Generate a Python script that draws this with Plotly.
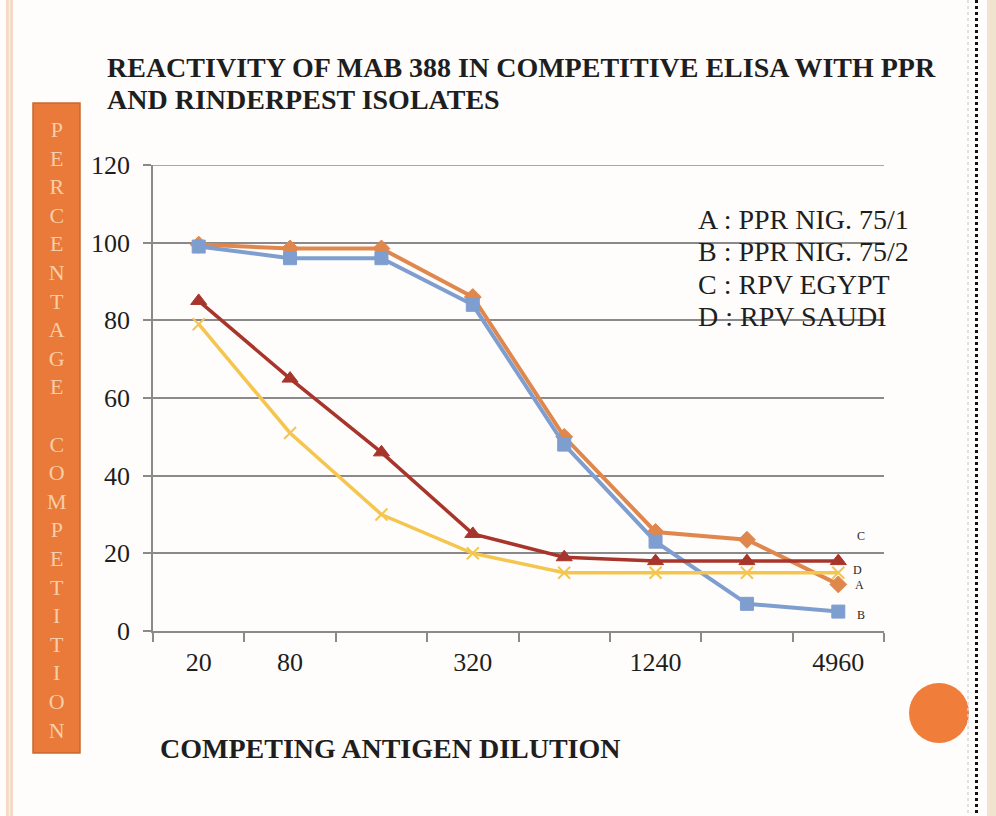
import plotly.graph_objects as go

# ---- data -------------------------------------------------------------
dilutions = ["20", "80", "160", "320", "640", "1240", "2480", "4960"]
tick_labels = ["20", "80", "", "320", "", "1240", "", "4960"]

ppr_nig_75_1 = [99.5, 98.5, 98.5, 86, 50, 25.5, 23.5, 12]   # A
ppr_nig_75_2 = [99, 96, 96, 84, 48, 23, 7, 5]               # B
rpv_egypt = [85, 65, 46, 25, 19, 18, 18, 18]                # C
rpv_saudi = [79, 51, 30, 20, 15, 15, 15, 15]                # D

series_letters = ["A", "B", "C", "D"]
series_names = ["PPR NIG. 75/1", "PPR NIG. 75/2", "RPV EGYPT", "RPV SAUDI"]
series_values = [ppr_nig_75_1, ppr_nig_75_2, rpv_egypt, rpv_saudi]

y_ticks = [0, 20, 40, 60, 80, 100, 120]

title_lines = ["REACTIVITY OF MAB 388 IN COMPETITIVE ELISA WITH PPR",
               "AND RINDERPEST ISOLATES"]
x_title = "COMPETING ANTIGEN DILUTION"
y_title = "PERCENTAGE COMPETITION"

# ---- layout geometry (pixels) -----------------------------------------
FIG_W, FIG_H = 996, 816
L, R, T, B = 153, 112, 165, 185
PW, PH = FIG_W - L - R, FIG_H - T - B


def px_x(p):
    return (p - L) / PW


def px_y(p):
    return (FIG_H - B - p) / PH


SERIF = "Liberation Serif, Times New Roman, serif"
TEXT = "#1e1e1e"
GRID = "#8a8a8a"

styles = [
    dict(color="#E0874E", symbol="diamond", size=13, width=4),
    dict(color="#7E9ED0", symbol="square", size=13, width=4),
    dict(color="#A8352B", symbol="triangle-up", size=14, width=3.5),
    dict(color="#F4C64F", symbol="x-thin", size=12, width=3.5),
]

fig = go.Figure()

for letter, name, vals, st in zip(series_letters, series_names, series_values, styles):
    fig.add_trace(go.Scatter(
        x=dilutions, y=vals, mode="lines+markers", name=f"{letter} : {name}",
        line=dict(color=st["color"], width=st["width"]),
        marker=dict(symbol=st["symbol"], size=st["size"], color=st["color"],
                    line=dict(color=st["color"], width=2 if st["symbol"] == "x-thin" else 1)),
        showlegend=False, cliponaxis=False,
    ))

annotations = []

# series letters at the right end of each curve
last_idx = len(dilutions) - 1
end_offsets = {"A": (21, -1), "B": (23, -3), "C": (23, 25), "D": (19, 3)}
for letter, vals in zip(series_letters, series_values):
    dx, dy = end_offsets[letter]
    annotations.append(dict(
        x=last_idx, y=vals[-1], xref="x", yref="y", text=letter,
        xshift=dx, yshift=dy, showarrow=False,
        font=dict(family=SERIF, size=12, color=TEXT),
    ))

# key box inside the plot
for i, (letter, name) in enumerate(zip(series_letters, series_names)):
    annotations.append(dict(
        x=px_x(696), y=px_y(219 + i * 32.5), xref="paper", yref="paper",
        xanchor="left", yanchor="middle", showarrow=False,
        text=f"{letter} : {name}",
        font=dict(family=SERIF, size=28, color=TEXT),
    ))

# title, one annotation per line
for i, line in enumerate(title_lines):
    annotations.append(dict(
        x=px_x(105), y=px_y(68 + i * 32), xref="paper", yref="paper",
        xanchor="left", yanchor="middle", showarrow=False,
        text=f"<b>{line}</b>",
        font=dict(family=SERIF, size=28, color=TEXT),
    ))

# x-axis title
annotations.append(dict(
    x=px_x(158), y=px_y(748), xref="paper", yref="paper",
    xanchor="left", yanchor="middle", showarrow=False,
    text=f"<b>{x_title}</b>",
    font=dict(family=SERIF, size=28, color=TEXT),
))

# y-axis title stacked letter by letter on the orange bar
stacked = "<br>".join(ch if ch != " " else "&nbsp;" for ch in y_title)
annotations.append(dict(
    x=px_x(57), y=px_y(430), xref="paper", yref="paper",
    xanchor="center", yanchor="middle", showarrow=False,
    text=stacked,
    font=dict(family=SERIF, size=22, color="#F7CDA8"),
))

shapes = [
    # left page border
    dict(type="rect", xref="paper", yref="paper", x0=px_x(6), x1=px_x(13),
         y0=px_y(0), y1=px_y(FIG_H), fillcolor="#F5D8C6", line=dict(width=0), layer="below"),
    dict(type="line", xref="paper", yref="paper", x0=px_x(9.5), x1=px_x(9.5),
         y0=px_y(0), y1=px_y(FIG_H), line=dict(color="#FBEDE4", width=1.5), layer="below"),
    # orange bar behind the y title
    dict(type="rect", xref="paper", yref="paper", x0=px_x(33), x1=px_x(80),
         y0=px_y(753), y1=px_y(103), fillcolor="#E97A3A",
         line=dict(color="#C9682F", width=1.5), layer="below"),
    # orange disc
    dict(type="circle", xref="paper", yref="paper", x0=px_x(909), x1=px_x(969),
         y0=px_y(743), y1=px_y(683), fillcolor="#F07D3A", line=dict(width=0), layer="below"),
    # right page border
    dict(type="line", xref="paper", yref="paper", x0=px_x(968), x1=px_x(968),
         y0=px_y(0), y1=px_y(FIG_H), line=dict(color="#D8D8D8", width=1.5, dash="dot"), layer="below"),
    dict(type="line", xref="paper", yref="paper", x0=px_x(976.5), x1=px_x(976.5),
         y0=px_y(0), y1=px_y(FIG_H), line=dict(color="#111111", width=3, dash="dot"), layer="below"),
    dict(type="rect", xref="paper", yref="paper", x0=px_x(987), x1=px_x(996),
         y0=px_y(0), y1=px_y(FIG_H), fillcolor="#F0E4CE", line=dict(width=0), layer="below"),
    # gridline along the top of the value range
    dict(type="line", xref="paper", yref="y", x0=0, x1=1, y0=y_ticks[-1], y1=y_ticks[-1],
         line=dict(color=GRID, width=1.5), layer="below"),
]

fig.update_layout(
    width=FIG_W, height=FIG_H,
    margin=dict(l=L, r=R, t=T, b=B, pad=0),
    paper_bgcolor="#FEFDFB", plot_bgcolor="rgba(0,0,0,0)",
    annotations=annotations, shapes=shapes,
    showlegend=False,
)

fig.update_xaxes(
    type="category", categoryorder="array", categoryarray=dilutions,
    range=[-0.5, len(dilutions) - 0.5],
    tickmode="array", tickvals=dilutions, ticktext=tick_labels,
    tickson="boundaries", ticks="outside", ticklen=9, tickwidth=1.5, tickcolor=GRID,
    showline=True, linecolor=GRID, linewidth=1.5, showgrid=False, zeroline=False,
    tickfont=dict(family=SERIF, size=26, color=TEXT), ticklabelstandoff=7,
)

fig.update_yaxes(
    range=[0, 120], tickmode="array", tickvals=y_ticks,
    ticks="outside", ticklen=8, tickwidth=1.5, tickcolor=GRID,
    showline=True, linecolor=GRID, linewidth=1.5,
    showgrid=True, gridcolor=GRID, gridwidth=1.5, zeroline=False,
    tickfont=dict(family=SERIF, size=26, color=TEXT), ticklabelstandoff=8,
)

fig.write_html("out.html")
